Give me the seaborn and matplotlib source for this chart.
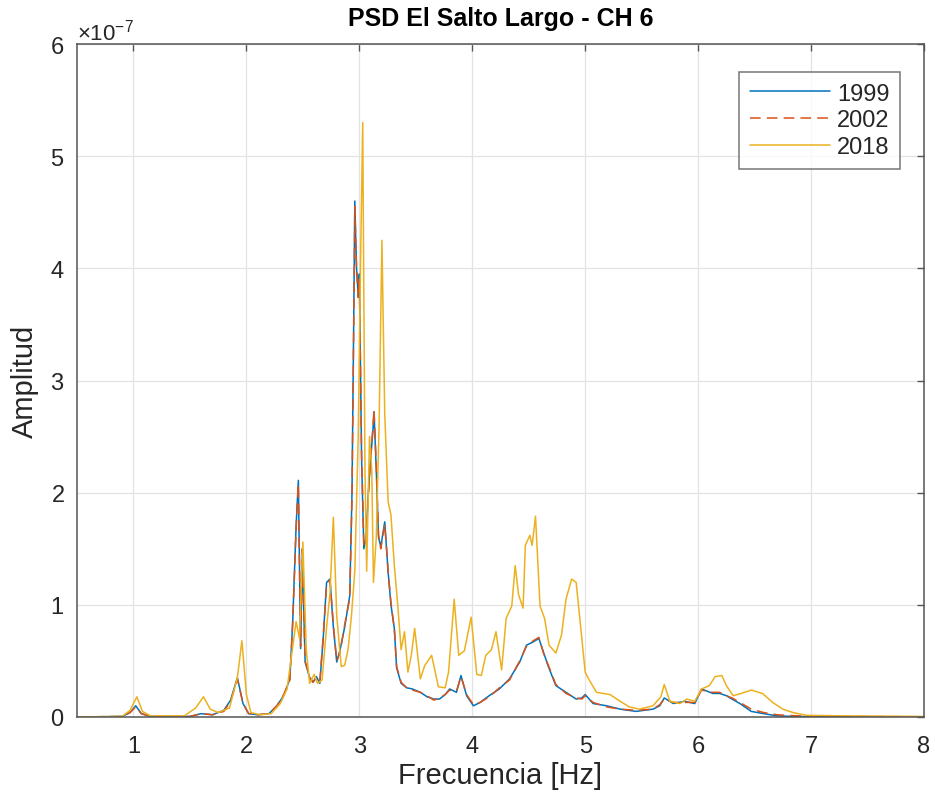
import numpy as np
import pandas as pd
import seaborn as sns
import matplotlib
matplotlib.use("Agg")
import matplotlib.pyplot as plt
from matplotlib.ticker import ScalarFormatter

# Power spectral density, channel 6, three campaigns (amplitude in units of 1e-7)
years = ["1999", "2002", "2018"]

freq_1999 = [0.50, 0.90, 0.97, 1.02, 1.07, 1.15, 1.50, 1.60, 1.70, 1.80, 1.86, 1.92,
             1.97, 2.02, 2.10, 2.20, 2.27, 2.33, 2.385, 2.41, 2.44, 2.46, 2.48, 2.495,
             2.52, 2.56, 2.59, 2.62, 2.65, 2.68, 2.71, 2.74, 2.77, 2.80, 2.83, 2.87,
             2.915, 2.935, 2.95, 2.96, 2.975, 2.99, 3.00, 3.02, 3.04, 3.06, 3.08, 3.10,
             3.12, 3.13, 3.15, 3.17, 3.19, 3.225, 3.255, 3.28, 3.31, 3.33, 3.37, 3.42,
             3.47, 3.54, 3.60, 3.66, 3.71, 3.76, 3.80, 3.86, 3.90, 3.95, 4.01, 4.07,
             4.15, 4.24, 4.33, 4.42, 4.48, 4.54, 4.59, 4.63, 4.67, 4.74, 4.83, 4.92,
             4.97, 5.00, 5.07, 5.19, 5.31, 5.45, 5.60, 5.66, 5.70, 5.78, 5.88, 5.97,
             6.03, 6.13, 6.19, 6.25, 6.30, 6.37, 6.47, 6.58, 6.70, 6.85, 7.10, 7.50, 8.00]
amp_1999 = [0.00, 0.005, 0.04, 0.10, 0.03, 0.005, 0.005, 0.03, 0.02, 0.06, 0.15, 0.35,
            0.12, 0.03, 0.02, 0.03, 0.10, 0.19, 0.34, 0.85, 1.70, 2.11, 0.61, 1.45,
            0.49, 0.35, 0.31, 0.36, 0.30, 0.70, 1.20, 1.23, 0.80, 0.49, 0.60, 0.80,
            1.08, 2.00, 3.50, 4.60, 4.00, 3.76, 3.95, 2.30, 1.50, 1.60, 2.00, 2.30,
            2.55, 2.72, 2.20, 1.60, 1.52, 1.74, 1.29, 1.00, 0.79, 0.44, 0.30, 0.26,
            0.25, 0.22, 0.18, 0.16, 0.16, 0.20, 0.25, 0.22, 0.37, 0.19, 0.10, 0.13,
            0.19, 0.25, 0.34, 0.49, 0.64, 0.67, 0.70, 0.58, 0.46, 0.28, 0.22, 0.16,
            0.17, 0.20, 0.12, 0.10, 0.07, 0.05, 0.07, 0.10, 0.17, 0.12, 0.14, 0.12,
            0.25, 0.21, 0.21, 0.19, 0.16, 0.12, 0.05, 0.03, 0.01, 0.005, 0.003, 0.002, 0.001]

freq_2002 = [0.50, 0.90, 0.97, 1.02, 1.07, 1.15, 1.50, 1.60, 1.70, 1.80, 1.86, 1.92,
             1.97, 2.02, 2.10, 2.20, 2.27, 2.33, 2.385, 2.41, 2.44, 2.46, 2.48, 2.495,
             2.52, 2.56, 2.59, 2.62, 2.65, 2.68, 2.71, 2.74, 2.77, 2.80, 2.83, 2.87,
             2.915, 2.935, 2.95, 2.96, 2.975, 2.99, 3.00, 3.02, 3.04, 3.06, 3.08, 3.10,
             3.12, 3.13, 3.15, 3.17, 3.19, 3.225, 3.255, 3.28, 3.31, 3.33, 3.37, 3.42,
             3.47, 3.54, 3.60, 3.66, 3.71, 3.76, 3.80, 3.86, 3.90, 3.95, 4.01, 4.07,
             4.15, 4.24, 4.33, 4.42, 4.48, 4.54, 4.59, 4.63, 4.67, 4.74, 4.83, 4.92,
             4.97, 5.00, 5.07, 5.19, 5.31, 5.45, 5.60, 5.66, 5.70, 5.78, 5.88, 5.97,
             6.03, 6.13, 6.19, 6.25, 6.30, 6.37, 6.47, 6.58, 6.70, 6.85, 7.00, 7.50, 8.00]
amp_2002 = [0.00, 0.005, 0.04, 0.09, 0.03, 0.005, 0.005, 0.03, 0.02, 0.05, 0.14, 0.34,
            0.12, 0.03, 0.02, 0.03, 0.10, 0.20, 0.33, 0.84, 1.68, 2.08, 0.63, 1.50,
            0.50, 0.36, 0.31, 0.35, 0.31, 0.72, 1.18, 1.22, 0.82, 0.50, 0.58, 0.82,
            1.06, 1.95, 3.45, 4.55, 4.02, 3.74, 3.92, 2.35, 1.52, 1.58, 1.98, 2.32,
            2.58, 2.74, 2.24, 1.62, 1.50, 1.72, 1.30, 1.02, 0.78, 0.45, 0.31, 0.26,
            0.24, 0.22, 0.19, 0.15, 0.17, 0.20, 0.24, 0.23, 0.36, 0.20, 0.11, 0.13,
            0.18, 0.26, 0.33, 0.50, 0.63, 0.68, 0.71, 0.57, 0.47, 0.29, 0.21, 0.17,
            0.16, 0.19, 0.13, 0.09, 0.07, 0.06, 0.07, 0.11, 0.16, 0.13, 0.13, 0.13,
            0.24, 0.22, 0.22, 0.19, 0.17, 0.13, 0.07, 0.04, 0.02, 0.012, 0.008, 0.004, 0.002]

freq_2018 = [0.50, 0.90, 0.97, 1.03, 1.08, 1.15, 1.45, 1.55, 1.62, 1.68, 1.75, 1.85,
             1.92, 1.96, 2.00, 2.04, 2.12, 2.22, 2.30, 2.36, 2.40, 2.44, 2.47, 2.50,
             2.53, 2.56, 2.60, 2.63, 2.67, 2.71, 2.74, 2.77, 2.80, 2.84, 2.87, 2.90,
             2.93, 2.96, 2.99, 3.01, 3.03, 3.05, 3.065, 3.09, 3.11, 3.125, 3.15, 3.175,
             3.20, 3.225, 3.255, 3.28, 3.31, 3.34, 3.37, 3.40, 3.43, 3.46, 3.49, 3.54,
             3.58, 3.64, 3.70, 3.76, 3.79, 3.84, 3.88, 3.93, 3.99, 4.04, 4.08, 4.12,
             4.17, 4.21, 4.26, 4.30, 4.35, 4.38, 4.41, 4.45, 4.47, 4.51, 4.53, 4.56,
             4.60, 4.64, 4.68, 4.74, 4.79, 4.83, 4.88, 4.92, 4.97, 5.00, 5.03, 5.10,
             5.22, 5.31, 5.39, 5.48, 5.60, 5.67, 5.70, 5.75, 5.84, 5.90, 5.97, 6.03,
             6.10, 6.15, 6.21, 6.25, 6.31, 6.38, 6.47, 6.57, 6.66, 6.75, 6.84, 6.96,
             7.30, 8.00]
amp_2018 = [0.00, 0.005, 0.06, 0.18, 0.05, 0.01, 0.01, 0.08, 0.18, 0.07, 0.04, 0.08,
            0.35, 0.68, 0.20, 0.04, 0.02, 0.03, 0.12, 0.25, 0.55, 0.85, 0.70, 1.56,
            0.60, 0.30, 0.38, 0.30, 0.33, 0.80, 1.10, 1.78, 0.90, 0.45, 0.46, 0.60,
            0.90, 1.30, 2.50, 4.00, 5.30, 2.20, 1.30, 2.50, 2.20, 1.20, 1.60, 2.60,
            4.25, 2.70, 1.92, 1.80, 1.35, 1.00, 0.60, 0.76, 0.40, 0.55, 0.79, 0.34,
            0.46, 0.55, 0.27, 0.26, 0.40, 1.05, 0.55, 0.59, 0.89, 0.38, 0.37, 0.55,
            0.60, 0.76, 0.42, 0.88, 0.99, 1.35, 1.09, 0.97, 1.53, 1.62, 1.53, 1.79,
            0.99, 0.88, 0.64, 0.57, 0.73, 1.05, 1.23, 1.20, 0.70, 0.40, 0.34, 0.22,
            0.20, 0.14, 0.09, 0.07, 0.10, 0.18, 0.29, 0.14, 0.12, 0.16, 0.14, 0.25,
            0.28, 0.36, 0.37, 0.28, 0.19, 0.21, 0.24, 0.21, 0.13, 0.07, 0.04, 0.015,
            0.01, 0.005]

x_ticks = [1, 2, 3, 4, 5, 6, 7, 8]
y_ticks = [0, 1, 2, 3, 4, 5, 6]
scale = 1e-7

frames = []
for yr, fr, am in zip(years, [freq_1999, freq_2002, freq_2018], [amp_1999, amp_2002, amp_2018]):
    frames.append(pd.DataFrame({"f": fr, "amp": np.asarray(am) * scale, "year": yr}))
df = pd.concat(frames, ignore_index=True)

sns.set_theme(style="white")
plt.rcParams["font.family"] = ["Liberation Sans", "DejaVu Sans"]
plt.rcParams["mathtext.fontset"] = "custom"
plt.rcParams["mathtext.rm"] = "Liberation Sans"
plt.rcParams["mathtext.it"] = "Liberation Sans:italic"

palette = {"1999": "#0072BD", "2002": "#D95319", "2018": "#EDB120"}
dashes = {"1999": "", "2002": (7, 4), "2018": ""}

fig = plt.figure(figsize=(9.35, 8.03), dpi=100)
ax = fig.add_axes([77 / 935, 1 - 718 / 803, (924 - 77) / 935, (718 - 45) / 803])

sns.lineplot(data=df, x="f", y="amp", hue="year", style="year", palette=palette,
             dashes=dashes, sort=False, estimator=None, linewidth=1.1,
             ax=ax, legend=True)

txt = "#262626"
ax.set_xlim(0.5, 8)
ax.set_ylim(0, 6 * scale)
ax.set_xticks(x_ticks)
ax.set_yticks([v * scale for v in y_ticks])
fmt = ScalarFormatter(useMathText=True)
fmt.set_powerlimits((-3, 3))
ax.yaxis.set_major_formatter(fmt)
off = ax.yaxis.get_offset_text()
off.set_fontsize(16)
off.set_color(txt)

ax.grid(True, color="#e3e3e3", linewidth=0.9)
ax.set_axisbelow(True)
for s in ax.spines.values():
    s.set_color("#555555")
    s.set_linewidth(1.1)
ax.tick_params(axis="both", which="major", direction="in", length=5, width=1,
               color="#555555", labelsize=17, labelcolor=txt, top=True, right=True)
ax.tick_params(axis="x", pad=13)
ax.tick_params(axis="y", pad=9)

ax.set_xlabel("Frecuencia [Hz]", fontsize=21, color=txt, labelpad=3)
ax.set_ylabel("Amplitud", fontsize=21, color=txt, labelpad=8)
ax.set_title("PSD El Salto Largo - CH 6", fontsize=18, fontweight="bold", color="black", pad=14)

handles, labels = ax.get_legend_handles_labels()
leg = ax.legend(handles, labels, loc="upper right",
                bbox_to_anchor=(900 / 935, 1 - 73 / 803), bbox_transform=fig.transFigure,
                fontsize=17, frameon=True, fancybox=False, handlelength=3.4,
                handletextpad=0.3, labelspacing=0.2, borderpad=0.45, borderaxespad=0)
leg.get_frame().set_edgecolor("#555555")
leg.get_frame().set_linewidth(1.1)
for t in leg.get_texts():
    t.set_color(txt)

fig.savefig("out.png", dpi=100, facecolor="white")
